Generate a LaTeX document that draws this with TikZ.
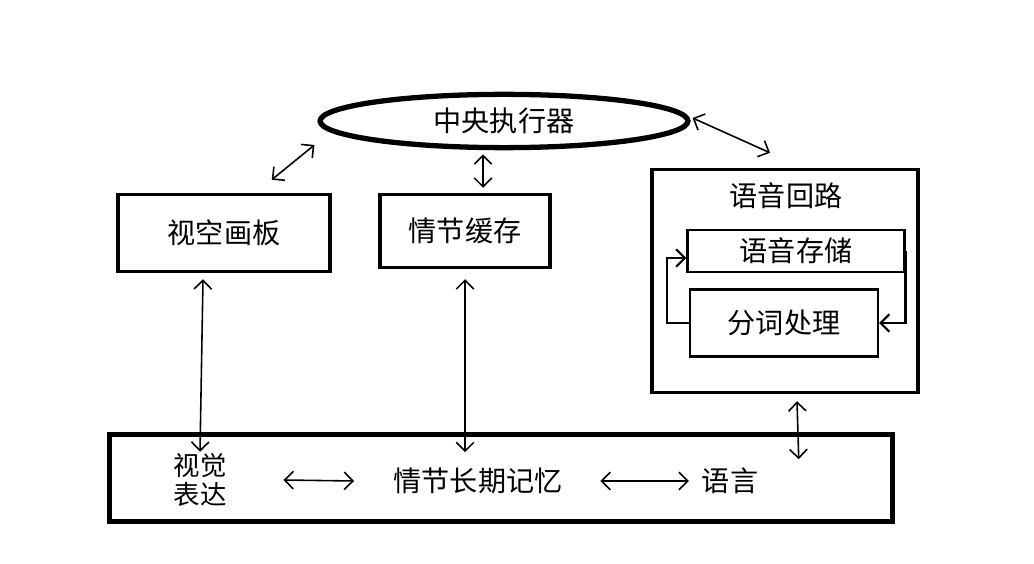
\documentclass[tikz,border=0pt]{standalone}
\usepackage{fontspec}
\newfontfamily\cjk{Noto Sans CJK SC}
\usetikzlibrary{shapes.geometric,arrows.meta}

\begin{document}
\begin{tikzpicture}[x=0.02cm, y=-0.02cm,
        box/.style={rectangle, draw=black, line width=2pt, align=center, font=\cjk\fontsize{16}{19}\selectfont},
        subbox/.style={rectangle, draw=black, line width=1.2pt, align=center, font=\cjk\fontsize{16}{19}\selectfont},
        label/.style={align=center, font=\cjk\fontsize{16}{19}\selectfont, inner sep=1pt},
        arrow/.style={{Straight Barb[length=5pt]}-{Straight Barb[length=5pt]}, line width=0.9pt},
        looparrow/.style={-{Straight Barb[length=5pt]}, line width=1.2pt}
      ]
        \useasboundingbox (0,0) rectangle (1034,564);
        \node[box, ellipse, line width=3pt, minimum width=7.36cm, minimum height=1cm] at (504,121) (exec) {中央执行器};
        \node[box, minimum width=4.24cm, minimum height=1.54cm] at (224,233) (sketch) {视空画板};
        \node[box, minimum width=3.4cm, minimum height=1.46cm] at (465,231) (buffer) {情节缓存};
        \node[box, minimum width=5.32cm, minimum height=4.46cm] at (785,281) (loop) {};
        \node[label] at (786,196) (looptitle) {语音回路};
        \node[subbox, minimum width=4.34cm, minimum height=0.84cm] at (796,251) (store) {语音存储};
        \node[subbox, minimum width=3.76cm, minimum height=1.34cm] at (784,323) (rehearse) {分词处理};
        \node[box, line width=2.6pt, minimum width=15.66cm, minimum height=1.74cm] at (501,478) (ltm) {};
        \node[label, font=\cjk\fontsize{15}{16}\selectfont] at (200,480) (visual) {视觉\\表达};
        \node[label] at (478,481) (episodic) {情节长期记忆};
        \node[label] at (730,481) (language) {语言};

        \draw[arrow] ([xshift=-0.06cm,yshift=-0.48cm]exec.west) -- ([xshift=-1.2cm,yshift=0.26cm]sketch.north east);
        \draw[arrow] ([xshift=-0.42cm,yshift=-0.08cm]exec.south) -- ([xshift=0.36cm,yshift=0.1cm]buffer.north);
        \draw[arrow] ([xshift=0.04cm,yshift=0.06cm]exec.east) -- ([xshift=-0.3cm,yshift=0.3cm]loop.north);
        \draw[arrow] ([xshift=-0.42cm,yshift=-0.12cm]sketch.south) -- (visual.north);
        \draw[arrow] ([yshift=-0.2cm]buffer.south) -- ([xshift=-0.72cm,yshift=-0.4cm]ltm.north);
        \draw[arrow] ([xshift=0.24cm,yshift=-0.14cm]loop.south) -- ([xshift=-1.92cm,yshift=-0.54cm]ltm.north east);
        \draw[arrow] ([xshift=1.1cm]visual.east) -- ([xshift=-0.75cm]episodic.west);
        \draw[arrow] ([xshift=0.72cm]episodic.east) -- ([xshift=-0.22cm]language.west);
        \draw[looparrow] (rehearse.west) -- ++(-0.44cm,0) |- ([yshift=-0.14cm]store.west);
        \draw[looparrow] (store.east) |- (rehearse.east);
      \end{tikzpicture}
\end{document}
